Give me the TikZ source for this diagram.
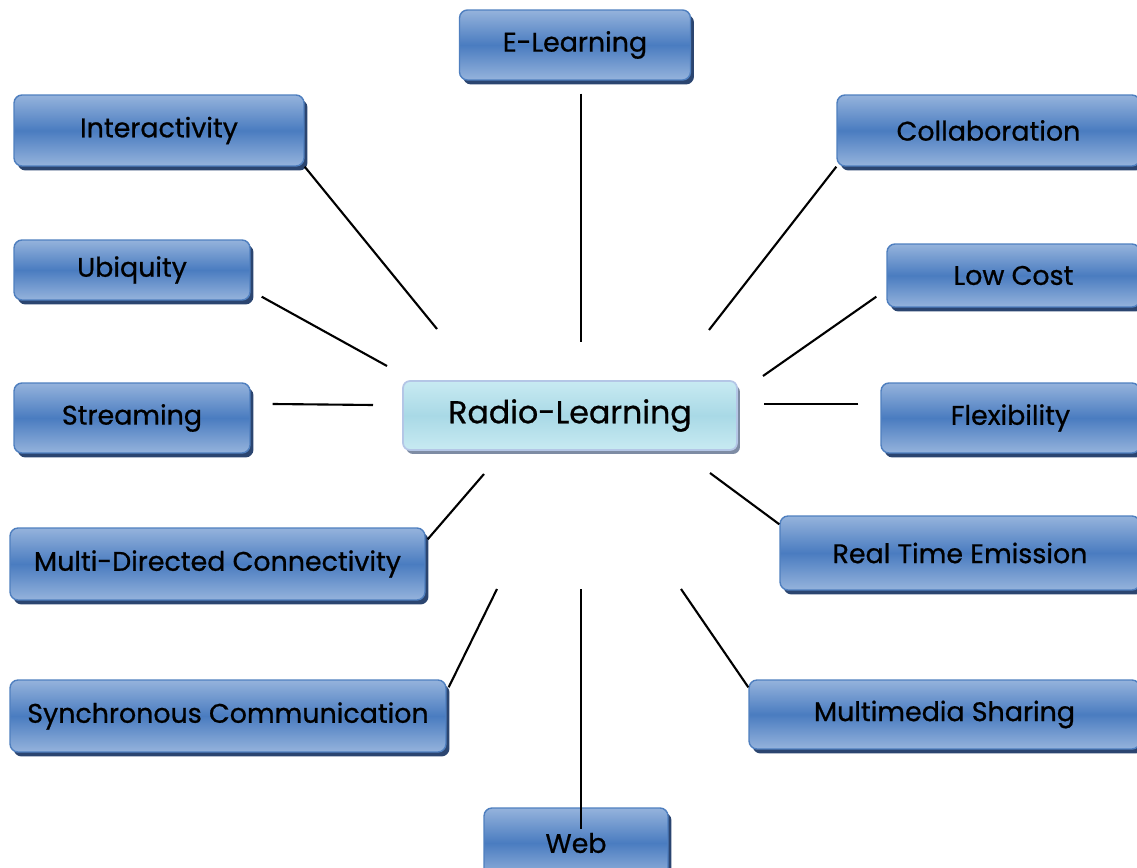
\documentclass[tikz,border=0pt]{standalone}
\usepackage{fontspec}
\setmainfont{Poppins}
\newfontfamily\conceptfont{Poppins}[FakeBold=0.7]
\usetikzlibrary{shadows,calc}
\definecolor{boxlight}{HTML}{95B3DC}
\definecolor{boxmid}{HTML}{4A7CC0}
\definecolor{boxedge}{HTML}{4F7FBF}
\definecolor{boxshadow}{HTML}{2B4570}
\definecolor{hublight}{HTML}{C8EAF2}
\definecolor{hubmid}{HTML}{A9D9E6}
\definecolor{hubedge}{HTML}{B4C6E6}
\definecolor{hubshadow}{HTML}{7E8CA4}
\tikzstyle{concept}=[rectangle,
                     rounded corners=0.16cm,
                     draw=boxedge,
                     line width=0.8pt,
                     top color=boxlight,
                     bottom color=boxlight,
                     middle color=boxmid,
                     drop shadow={shadow xshift=0.07cm,shadow yshift=-0.09cm,fill=boxshadow,opacity=1},
                     inner sep=0pt,
                     font=\conceptfont\fontsize{15.3}{17}\selectfont]
\tikzstyle{hub}=[rectangle,
                 rounded corners=0.14cm,
                 draw=hubedge,
                 line width=1pt,
                 top color=hublight,
                 bottom color=hublight,
                 middle color=hubmid,
                 drop shadow={shadow xshift=0.06cm,shadow yshift=-0.08cm,fill=hubshadow,opacity=1},
                 inner sep=0pt,
                 font=\conceptfont\fontsize{18}{20}\selectfont]
\tikzstyle{link}=[line width=1.2pt,black]

\begin{document}
\begin{tikzpicture}[x=0.02cm,y=-0.02cm]
    \useasboundingbox (0,0) rectangle (1137,868);
    \node[hub, minimum width=6.68cm, minimum height=1.38cm] (radio) at (570,415.5) {Radio-Learning};
    \node[concept, minimum width=4.62cm, minimum height=1.4cm] (elearn) at (575,45) {E-Learning};
    \node[concept, minimum width=5.8cm, minimum height=1.42cm] (inter) at (159,130.5) {Interactivity};
    \node[concept, minimum width=6.06cm, minimum height=1.42cm] (collab) at (988.5,130.5) {Collaboration};
    \node[concept, minimum width=4.72cm, minimum height=1.2cm] (ubiq) at (132,270) {Ubiquity};
    \node[concept, minimum width=5.06cm, minimum height=1.26cm] (lowcost) at (1013.5,275.5) {Low Cost};
    \node[concept, minimum width=4.72cm, minimum height=1.4cm] (stream) at (132,418) {Streaming};
    \node[concept, minimum width=5.18cm, minimum height=1.4cm] (flex) at (1010.5,418) {Flexibility};
    \node[concept, minimum width=8.3cm, minimum height=1.44cm] (multi) at (217.5,564) {Multi-Directed Connectivity};
    \node[concept, minimum width=7.2cm, minimum height=1.48cm] (realtime) at (960,553) {Real Time Emission};
    \node[concept, minimum width=8.72cm, minimum height=1.44cm] (sync) at (228,716) {Synchronous Communication};
    \node[concept, minimum width=7.82cm, minimum height=1.38cm] (mmedia) at (944.5,714.5) {Multimedia Sharing};
    \node[concept, minimum width=3.68cm, minimum height=1.4cm] (web) at (576,843) {Web};

    % free ends round the hub
    \coordinate (c-inter) at (437,329);
    \coordinate (c-elearn) at (581,342);
    \coordinate (c-collab) at (709,330);
    \coordinate (c-ubiq) at (387,366);
    \coordinate (c-lowcost) at (763,376);
    \coordinate (c-stream) at (373,405);
    \coordinate (c-flex) at (764,404);
    \coordinate (c-multi) at (484,474);
    \coordinate (c-realtime) at (710,473);
    \coordinate (c-sync) at (497,589);
    \coordinate (c-web) at (581,589);
    \coordinate (c-mmedia) at (681,589);

    \draw[link] (inter.south east) -- (c-inter);
    \draw[link] ($(elearn.south)+(6,13)$) -- (c-elearn);
    \draw[link] (collab.south west) -- (c-collab);
    \draw[link] ($(ubiq.south east)+(11,-4)$) -- (c-ubiq);
    \draw[link] ($(lowcost.south west)+(-10,-11)$) -- (c-lowcost);
    \draw[link] ($(stream.east)+(22,-14)$) -- (c-stream);
    \draw[link] ($(flex.west)+(-22,-14)$) -- (c-flex);
    \draw[link] ($(multi.north east)+(2,12)$) -- (c-multi);
    \draw[link] ($(realtime.north west)+(0,9)$) -- (c-realtime);
    \draw[link] ($(sync.north east)+(2,8)$) -- (c-sync);
    \draw[link] (c-web) -- ($(web.north)+(5,22)$);
    \draw[link] ($(mmedia.north west)+(0,8)$) -- (c-mmedia);
\end{tikzpicture}
\end{document}
